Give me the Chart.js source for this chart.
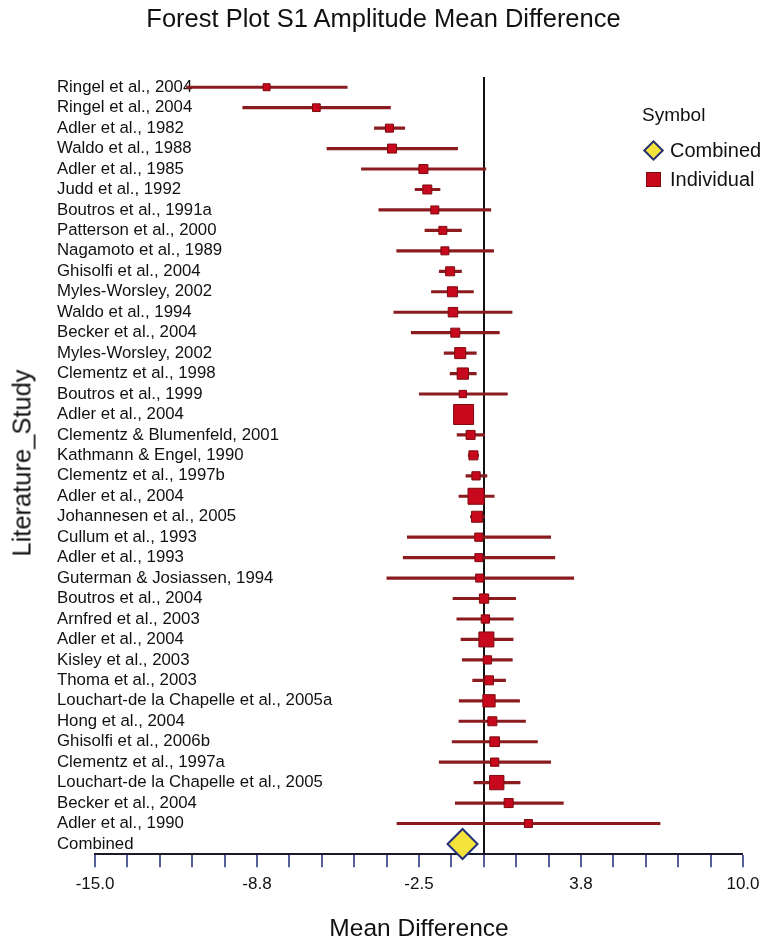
<!DOCTYPE html>
<html>
<head>
<meta charset="utf-8">
<script src="https://cdn.jsdelivr.net/npm/chart.js@4.4.0/dist/chart.umd.min.js"></script>
<style>
  html, body { margin: 0; padding: 0; background: #fff; }
  #wrap { position: relative; width: 767px; height: 945px; font-family: "Liberation Sans", Arial, Helvetica, sans-serif; color: #111; }
  #chart { position: absolute; left: 0; top: 0; }
  .title { position: absolute; left: 0; top: 4px; width: 767px; text-align: center; font-size: 25.5px; }
  .ytitle { position: absolute; left: 22px; top: 463px; transform: translate(-50%, -50%) rotate(-90deg); font-size: 25.5px; white-space: nowrap; }
  .legend { position: absolute; left: 642px; top: 104px; font-size: 20px; }
  .legend .row { display: flex; align-items: center; height: 29px; }
  .legend .head { height: 24px; margin-bottom: 8px; font-size: 19px; }
  .sym { width: 18px; height: 18px; margin: 0 8px 0 2px; display: flex; align-items: center; justify-content: center; }
  .diamond { width: 11px; height: 11px; background: #f3e33b; border: 2px solid #24307c; transform: rotate(45deg); }
  .square { width: 13px; height: 13px; background: #c8081c; border: 1px solid #7c0a0e; }
</style>
</head>
<body>
<div id="wrap">
  <canvas id="chart" width="767" height="945"></canvas>
  <div class="title">Forest Plot S1 Amplitude Mean Difference</div>
  <div class="ytitle">Literature_Study</div>
  <div class="legend">
    <div class="head">Symbol</div>
    <div class="row"><div class="sym"><div class="diamond"></div></div>Combined</div>
    <div class="row"><div class="sym"><div class="square"></div></div>Individual</div>
  </div>
</div>
<script>
const studies = [
  'Ringel et al., 2004', 'Ringel et al., 2004', 'Adler et al., 1982', 'Waldo et al., 1988',
  'Adler et al., 1985', 'Judd et al., 1992', 'Boutros et al., 1991a', 'Patterson et al., 2000',
  'Nagamoto et al., 1989', 'Ghisolfi et al., 2004', 'Myles-Worsley, 2002', 'Waldo et al., 1994',
  'Becker et al., 2004', 'Myles-Worsley, 2002', 'Clementz et al., 1998', 'Boutros et al., 1999',
  'Adler et al., 2004', 'Clementz & Blumenfeld, 2001', 'Kathmann & Engel, 1990', 'Clementz et al., 1997b',
  'Adler et al., 2004', 'Johannesen et al., 2005', 'Cullum et al., 1993', 'Adler et al., 1993',
  'Guterman & Josiassen, 1994', 'Boutros et al., 2004', 'Arnfred et al., 2003', 'Adler et al., 2004',
  'Kisley et al., 2003', 'Thoma et al., 2003', 'Louchart-de la Chapelle et al., 2005a', 'Hong et al., 2004',
  'Ghisolfi et al., 2006b', 'Clementz et al., 1997a', 'Louchart-de la Chapelle et al., 2005', 'Becker et al., 2004',
  'Adler et al., 1990', 'Combined'
];

// mean difference and 95% CI per study (Combined row last)
const meanDiff = [-8.38, -6.46, -3.64, -3.54, -2.33, -2.18, -1.89, -1.58, -1.50, -1.30, -1.21, -1.19,
  -1.10, -0.91, -0.81, -0.81, -0.78, -0.51, -0.40, -0.30, -0.30, -0.26, -0.19, -0.19, -0.16,
  0.01, 0.06, 0.10, 0.14, 0.20, 0.20, 0.33, 0.42, 0.42, 0.50, 0.96, 1.72];
const ciLow = [-11.47, -9.30, -4.22, -6.05, -4.72, -2.65, -4.05, -2.27, -3.36, -1.72, -2.02, -3.47,
  -2.80, -1.53, -1.30, -2.49, -1.15, -1.03, -0.60, -0.69, -0.96, -0.52, -2.95, -3.11, -3.74,
  -1.19, -1.04, -0.88, -0.83, -0.43, -0.95, -0.96, -1.22, -1.72, -0.38, -1.10, -3.35];
const ciHigh = [-5.27, -3.60, -3.05, -1.01, 0.08, -1.69, 0.27, -0.86, 0.38, -0.86, -0.40, 1.09,
  0.60, -0.29, -0.29, 0.91, -0.40, 0.03, -0.20, 0.12, 0.40, 0.03, 2.58, 2.74, 3.47,
  1.23, 1.14, 1.13, 1.10, 0.84, 1.38, 1.61, 2.07, 2.58, 1.40, 3.07, 6.80];
// relative study weight (drives marker size)
const weights = [6.4, 7.6, 8.1, 10, 10, 10, 8.1, 8.1, 8.1, 10, 12.1, 11,
  10, 14.4, 15.1, 6.9, 44, 10, 10, 8.6, 28.9, 14.4, 8.6, 8.1, 8.1,
  10.6, 8.6, 25.6, 8.6, 10, 17.7, 10, 11.4, 8.6, 23.4, 10, 8.1];
const combinedMean = -0.82;

const xMin = -15.0;
const xMax = 10.0;
const xStep = 1.25;

const ciData = studies.map((s, i) => i < meanDiff.length ? [ciLow[i], ciHigh[i]] : null);
const pointData = studies.map((s, i) => i < meanDiff.length ? meanDiff[i] : null);
const combinedData = studies.map((s, i) => s === 'Combined' ? combinedMean : null);
const radii = studies.map((s, i) => i < weights.length ? (Math.sqrt(weights[i] * 10) - 1) / Math.SQRT2 : 0);

const font = '"Liberation Sans", Arial, Helvetica, sans-serif';
const yAxisWidth = 38;

new Chart(document.getElementById('chart'), {
  type: 'bar',
  data: {
    labels: studies,
    datasets: [
      {
        type: 'line',
        label: 'Combined',
        data: combinedData,
        showLine: false,
        pointStyle: 'rectRot',
        pointRadius: 15,
        pointBackgroundColor: '#f3e33b',
        pointBorderColor: '#24307c',
        pointBorderWidth: 2,
        clip: false,
        order: 0
      },
      {
        type: 'line',
        label: 'Individual',
        data: pointData,
        showLine: false,
        pointStyle: 'rect',
        pointRadius: radii,
        pointBackgroundColor: '#c8081c',
        pointBorderColor: '#7c0a0e',
        pointBorderWidth: 1,
        order: 1
      },
      {
        label: 'CI',
        data: ciData,
        backgroundColor: '#8a1c20',
        borderWidth: 0,
        barThickness: 2.5,
        order: 2
      }
    ]
  },
  options: {
    indexAxis: 'y',
    responsive: false,
    animation: false,
    layout: { padding: { left: 57, right: 24, top: 77, bottom: 0 } },
    plugins: {
      legend: { display: false },
      tooltip: { enabled: false }
    },
    scales: {
      x: {
        type: 'linear',
        min: xMin,
        max: xMax,
        border: { display: true, color: '#1a1a2a', width: 2 },
        grid: {
          drawOnChartArea: true,
          color: (ctx) => ctx.tick && Math.abs(ctx.tick.value) < 1e-9 ? '#111' : 'rgba(0,0,0,0)',
          lineWidth: (ctx) => ctx.tick && Math.abs(ctx.tick.value) < 1e-9 ? 2 : 0,
          drawTicks: true,
          tickLength: 13,
          tickColor: '#1f2a78',
          tickWidth: 1.5
        },
        ticks: {
          stepSize: xStep,
          autoSkip: false,
          maxRotation: 0,
          padding: 7,
          color: '#111',
          font: { family: font, size: 17 },
          callback: (value, index) => index % 5 === 0 ? Number(value).toFixed(1) : ''
        },
        title: {
          display: true,
          text: 'Mean Difference',
          color: '#111',
          font: { family: font, size: 24.5 },
          padding: { top: 13, bottom: 1 }
        }
      },
      y: {
        type: 'category',
        offset: true,
        grid: { display: false, drawTicks: false },
        border: { display: false },
        ticks: {
          // mirrored so the long study names can run over the plot area
          mirror: true,
          crossAlign: 'near',
          padding: -yAxisWidth,
          autoSkip: false,
          color: '#111',
          font: { family: font, size: 16.8 }
        },
        afterFit: (scale) => { scale.width = yAxisWidth; }
      }
    }
  }
});
</script>
</body>
</html>
